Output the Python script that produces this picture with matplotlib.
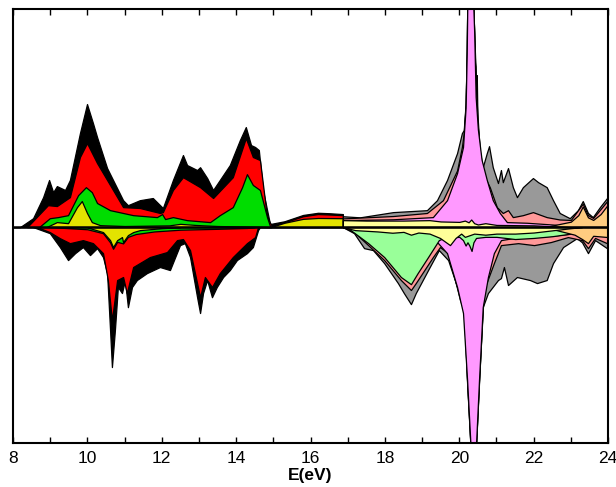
import matplotlib
matplotlib.use("Agg")
import matplotlib.pyplot as plt

plt.rcParams['font.family'] = ['Liberation Sans', 'DejaVu Sans']

# Partial DOS, stacked (cumulative) curves as (E, DOS) pairs.
# Left block: 8 - 16.87 eV
black_up = [(8.0, 0), (8.19, 0), (8.54, 0.41), (8.81, 1.38), (8.97, 2.17), (9.08, 1.61),
            (9.18, 1.89), (9.40, 1.71), (9.53, 2.17), (9.80, 4.33), (9.99, 5.67),
            (10.15, 4.79), (10.26, 4.15), (10.53, 2.72), (10.96, 1.24), (11.09, 1.01),
            (11.41, 1.24), (11.76, 1.34), (12.03, 0.88), (12.30, 2.17), (12.57, 3.32),
            (12.68, 2.86), (12.95, 2.63), (13.03, 2.76), (13.22, 2.26), (13.38, 1.71),
            (13.83, 2.86), (14.10, 4.01), (14.26, 4.61), (14.40, 3.78), (14.51, 3.69),
            (14.61, 3.55), (14.72, 1.71), (14.91, 0.14), (15.3, 0.27), (15.8, 0.56),
            (16.2, 0.66), (16.5, 0.64), (16.87, 0.6)]
red_up = [(8.38, 0), (8.94, 1.01), (9.18, 0.97), (9.53, 1.38), (9.80, 3.23), (9.99, 3.87),
          (10.26, 2.95), (10.53, 2.17), (10.96, 0.92), (11.41, 0.88), (11.95, 0.65),
          (12.03, 0.69), (12.30, 1.71), (12.57, 2.30), (13.03, 1.84), (13.38, 1.34),
          (13.91, 2.30), (14.26, 4.10), (14.45, 3.23), (14.64, 3.09), (14.83, 0.46),
          (14.96, 0.05), (15.3, 0.22), (15.8, 0.5), (16.2, 0.6), (16.5, 0.58), (16.87, 0.55)]
green_up = [(8.70, 0), (8.99, 0.41), (9.21, 0.46), (9.48, 0.55), (9.75, 1.47), (9.96, 1.84),
            (10.12, 1.61), (10.26, 1.11), (10.61, 0.78), (11.23, 0.55), (11.87, 0.46),
            (12.01, 0.60), (12.09, 0.37), (12.30, 0.46), (12.68, 0.32), (13.30, 0.23),
            (13.56, 0.55), (13.91, 0.92), (14.16, 1.84), (14.29, 2.44), (14.45, 1.94),
            (14.64, 1.71), (14.83, 0.46), (14.91, 0.05), (14.95, 0)]
yellow_up = [(8.90, 0), (9.18, 0.23), (9.48, 0.18), (9.72, 0.92), (9.85, 1.20), (9.99, 0.65),
             (10.12, 0.23), (10.34, 0.09), (11.0, 0.05), (12.2, 0.08), (12.5, 0.15),
             (12.9, 0.1), (13.5, 0.05), (14.5, 0.02), (14.93, 0), (15.3, 0.2), (15.8, 0.38),
             (16.2, 0.42), (16.87, 0.41)]
black_dn = [(8.54, 0), (8.99, -0.28), (9.26, -0.92), (9.48, -1.52), (9.67, -1.20),
            (9.88, -0.92), (10.07, -1.29), (10.26, -0.97), (10.42, -1.38), (10.53, -2.12),
            (10.61, -4.75), (10.66, -6.45), (10.74, -4.75), (10.82, -2.76), (10.93, -3.04),
            (11.01, -2.44), (11.09, -3.69), (11.20, -2.76), (11.33, -2.44), (11.60, -2.12),
            (11.95, -1.84), (12.22, -1.98), (12.49, -0.83), (12.62, -0.74), (12.76, -1.38),
            (12.95, -3.23), (13.03, -3.96), (13.11, -3.04), (13.22, -2.44), (13.35, -3.23),
            (13.48, -2.76), (13.65, -2.30), (13.83, -1.98), (14.02, -1.52), (14.29, -1.20),
            (14.45, -0.92), (14.59, -0.14), (14.64, 0)]
red_dn = [(8.65, 0), (8.99, -0.23), (9.26, -0.51), (9.53, -0.74), (9.88, -0.60),
          (10.15, -0.74), (10.42, -1.20), (10.55, -2.44), (10.66, -4.29), (10.80, -2.44),
          (10.96, -2.30), (11.06, -3.04), (11.23, -1.84), (11.68, -1.38), (12.14, -1.15),
          (12.41, -0.60), (12.57, -0.55), (12.76, -1.06), (13.03, -3.23), (13.16, -2.30),
          (13.35, -2.76), (13.56, -2.12), (13.91, -1.38), (14.29, -0.74), (14.51, -0.46),
          (14.59, 0)]
green_dn = [(9.0, 0), (10.0, -0.1), (10.42, -0.28), (10.61, -0.7), (10.69, -1.0),
            (10.80, -0.68), (10.96, -0.75), (11.09, -0.45), (11.3, -0.32), (11.8, -0.2),
            (12.5, -0.12), (13.5, -0.08), (14.3, -0.04), (14.5, 0)]
yellow_dn = [(10.0, 0), (10.07, -0.05), (10.42, -0.23), (10.61, -0.60), (10.69, -0.92),
             (10.80, -0.60), (10.93, -0.46), (10.96, -0.69), (11.09, -0.37), (11.23, -0.23),
             (11.41, -0.14), (12.0, -0.05), (12.5, 0)]

# Right block: 16.87 - 24 eV
gray_up = [(16.87, 0.5), (17.33, 0.45), (18.22, 0.69), (19.13, 0.78), (19.40, 1.24),
           (19.67, 2.17), (19.94, 3.41), (20.07, 4.33), (20.12, 4.47), (20.17, 5.7),
           (20.20, 8.1), (20.22, 11.1), (20.29, 14.1), (20.36, 11.1), (20.40, 9.0),
           (20.43, 7.6), (20.44, 7.4), (20.46, 5.5), (20.47, 7.0), (20.49, 4.8),
           (20.55, 3.5), (20.63, 2.76), (20.74, 3.41), (20.80, 3.73), (20.90, 2.76),
           (21.04, 2.03), (21.12, 2.63), (21.17, 2.07), (21.31, 2.72), (21.44, 1.84),
           (21.55, 1.38), (21.71, 1.84), (21.98, 2.26), (22.12, 2.07), (22.35, 1.84),
           (22.52, 1.24), (22.70, 0.65), (22.97, 0.41), (23.19, 0.78), (23.32, 1.2),
           (23.46, 0.65), (23.59, 0.46), (23.78, 0.92), (24.0, 1.4)]
salmon_up = [(16.87, 0.4), (18.22, 0.51), (19.13, 0.65), (19.56, 1.24), (19.94, 2.61),
             (20.07, 3.69), (20.12, 4.33), (20.17, 5.6), (20.20, 8.05), (20.22, 11.05),
             (20.29, 14.05), (20.36, 11.05), (20.40, 9.0), (20.44, 6.5), (20.55, 3.5),
             (20.63, 2.49), (20.82, 1.84), (21.01, 0.92), (21.17, 0.65), (21.31, 0.78),
             (21.44, 0.46), (21.71, 0.55), (21.98, 0.69), (22.35, 0.46), (22.70, 0.35),
             (23.0, 0.33), (23.32, 1.08), (23.46, 0.55), (23.6, 0.42), (24.0, 1.25)]
pink_up = [(16.87, 0.32), (18.22, 0.36), (19.29, 0.46), (19.67, 1.24), (19.94, 2.49),
           (20.10, 3.69), (20.17, 5.5), (20.20, 8.0), (20.22, 11.0), (20.29, 14.0),
           (20.36, 11.0), (20.40, 9.0), (20.42, 7.5), (20.44, 6.0), (20.50, 4.5),
           (20.60, 3.1), (20.74, 2.17), (20.90, 1.24), (21.09, 0.65), (21.28, 0.23),
           (21.82, 0.2), (22.5, 0.12), (23.0, 0.05), (24.0, 0.05)]
orange_up = [(22.3, 0), (22.8, 0.18), (23.0, 0.25), (23.2, 0.55), (23.32, 0.95),
             (23.46, 0.45), (23.6, 0.33), (23.8, 0.6), (24.0, 1.05)]
ltyellow_up = [(16.87, 0.32), (17.5, 0.3), (18.5, 0.3), (19.2, 0.32), (19.5, 0.26),
               (20.0, 0.24), (20.15, 0.3), (20.25, 0.22), (20.32, 0.35), (20.4, 0.18),
               (20.5, 0.12), (20.7, 0.18), (21.0, 0.1), (22.0, 0.08), (22.6, 0.03), (23.0, 0)]
gray_dn = [(16.87, 0), (17.17, -0.28), (17.44, -0.97), (17.68, -1.06), (17.98, -1.66),
           (18.35, -2.58), (18.51, -3.04), (18.70, -3.55), (18.83, -3.04), (19.16, -1.98),
           (19.45, -1.06), (19.70, -1.52), (19.97, -2.90), (20.13, -3.96), (20.21, -7.2),
           (20.30, -10.1), (20.37, -13.0), (20.45, -10.1), (20.53, -7.2), (20.63, -3.69),
           (20.77, -3.04), (21.04, -2.44), (21.12, -2.35), (21.20, -1.84), (21.31, -2.67),
           (21.55, -2.30), (21.90, -2.44), (22.09, -2.58), (22.35, -2.44), (22.52, -1.66),
           (22.79, -0.92), (23.16, -0.51), (23.30, -0.7), (23.46, -1.20), (23.65, -0.60),
           (23.97, -0.97), (24.0, -1.0)]
salmon_dn = [(16.87, 0), (17.17, -0.23), (17.55, -0.83), (17.98, -1.52), (18.43, -2.44),
             (18.70, -2.90), (18.83, -2.58), (19.29, -1.38), (19.48, -0.92), (19.70, -1.20),
             (20.02, -3.36), (20.13, -3.9), (20.21, -7.1), (20.30, -10.05), (20.37, -12.95),
             (20.45, -10.05), (20.53, -7.1), (20.66, -2.90), (20.93, -1.66), (21.12, -0.83),
             (21.58, -0.74), (22.01, -0.83), (22.46, -0.69), (22.92, -0.46), (23.30, -0.6),
             (23.46, -0.97), (23.65, -0.5), (23.97, -0.74), (24.0, -0.75)]
pink_dn = [(16.87, 0), (18.5, -0.4), (19.2, -0.5), (19.43, -0.74), (19.67, -1.20),
           (19.94, -2.76), (20.10, -3.96), (20.21, -7.05), (20.30, -10.0), (20.37, -12.9),
           (20.45, -10.0), (20.53, -7.05), (20.63, -3.69), (20.77, -2.30), (20.93, -1.20),
           (21.12, -0.60), (21.47, -0.5), (22.0, -0.45), (22.5, -0.4), (23.0, -0.3),
           (23.4, -0.35), (24.0, -0.3)]
ltgreen_dn = [(16.87, 0), (17.01, -0.05), (17.55, -0.74), (17.98, -1.38), (18.43, -2.30),
              (18.70, -2.63), (18.88, -2.12), (19.16, -1.38), (19.45, -0.60), (19.6, -0.48),
              (20.0, -0.45), (20.1, -0.6), (20.17, -0.85), (20.22, -0.7), (20.27, -0.85),
              (20.33, -1.1), (20.38, -0.7), (20.45, -0.5), (20.7, -0.45), (21.0, -0.45),
              (21.5, -0.55), (22.0, -0.5), (22.5, -0.42), (23.0, -0.3), (23.5, -0.25),
              (24.0, -0.2)]
orange_dn = [(22.3, 0), (22.8, -0.22), (23.1, -0.35), (23.3, -0.55), (23.46, -0.74),
             (23.6, -0.4), (24.0, -0.46)]
ltyellow_dn = [(16.87, 0), (17.2, -0.14), (17.8, -0.2), (18.2, -0.26), (18.5, -0.22),
               (18.7, -0.35), (18.9, -0.25), (19.2, -0.3), (19.48, -0.5), (19.75, -0.83),
               (19.9, -0.5), (20.05, -0.3), (20.15, -0.45), (20.4, -0.3), (20.7, -0.35),
               (21.0, -0.3), (21.5, -0.3), (22.0, -0.25), (22.5, -0.15), (23.0, -0.05),
               (23.3, 0)]

layers = [
    (black_up, 'black'), (red_up, '#ff0000'), (green_up, '#00dd00'), (yellow_up, '#e3e300'),
    (black_dn, 'black'), (red_dn, '#ff0000'), (green_dn, '#00dd00'), (yellow_dn, '#e3e300'),
    (gray_up, '#999999'), (salmon_up, '#ff9999'), (pink_up, '#ff99ff'),
    (orange_up, '#ffcc80'), (ltyellow_up, '#ffff99'),
    (gray_dn, '#999999'), (salmon_dn, '#ff9999'), (pink_dn, '#ff99ff'),
    (ltgreen_dn, '#99ff99'), (orange_dn, '#ffcc80'), (ltyellow_dn, '#ffff99'),
]

fig = plt.figure(figsize=(6.16, 4.87), dpi=100)
ax = fig.add_axes([0.0211, 0.0903, 0.966, 0.8912])

for pts, color in layers:
    e, d = zip(*pts)
    ax.fill_between(e, 0, d, facecolor=color, edgecolor='black', linewidth=0.9)

ax.axhline(0, color='black', linewidth=1.8)

ax.set_xlim(8, 24)
ax.set_ylim(-9.95, 10.05)
ax.set_xticks(range(8, 25, 2))
ax.set_xticks(range(9, 24, 2), minor=True)
ax.set_yticks([])
ax.tick_params(axis='x', which='both', direction='in', top=True, length=4,
               width=1, labelsize=12.5, pad=6)
for s in ax.spines.values():
    s.set_linewidth(1.5)
ax.set_xlabel('E(eV)', fontsize=12.5, fontweight='bold', labelpad=1)

fig.savefig('out.png', dpi=100)
